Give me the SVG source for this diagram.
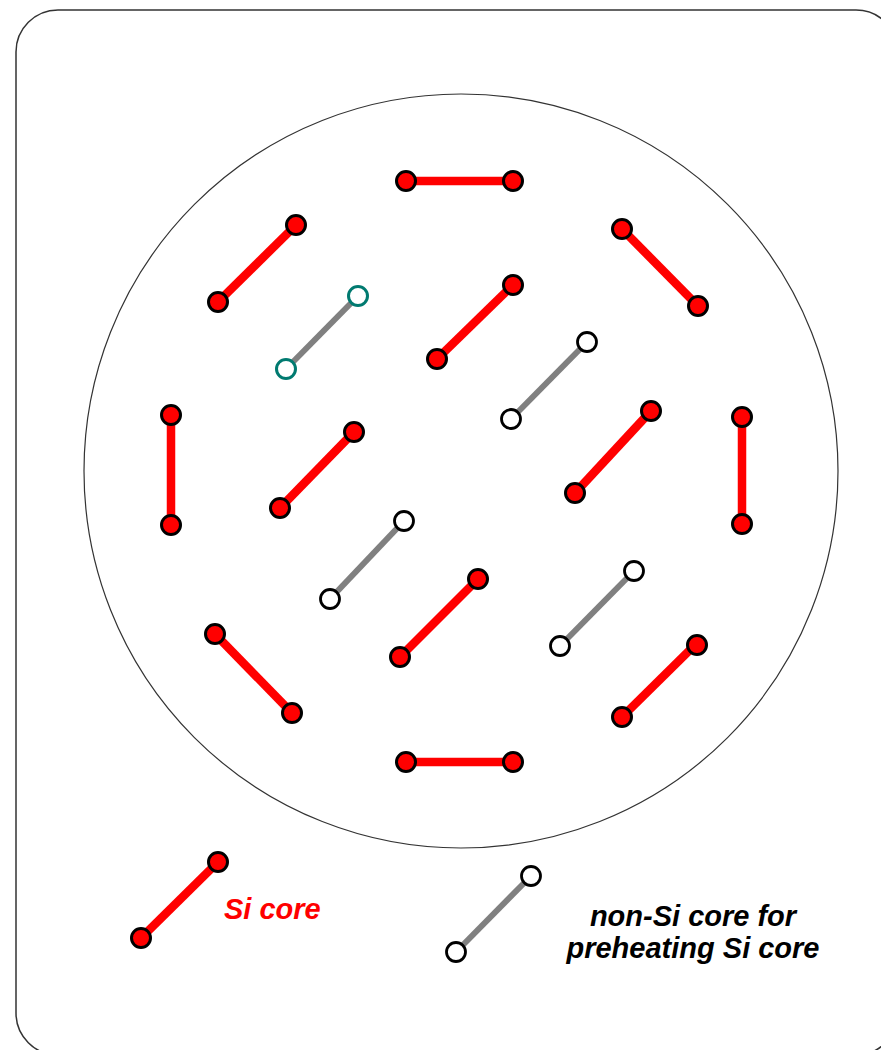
<svg xmlns="http://www.w3.org/2000/svg" width="881" height="1050" viewBox="0 0 881 1050">
  <style>
    .frame { fill: #ffffff; stroke: #333333; stroke-width: 1.5; }
    .wafer { fill: #ffffff; stroke: #333333; stroke-width: 1.2; }
    .si-rod { stroke: #ff0000; stroke-width: 8.5; stroke-linecap: butt; }
    .pre-rod { stroke: #808080; stroke-width: 6; stroke-linecap: butt; }
    .si-end { fill: #ff0000; stroke: #000000; stroke-width: 3; }
    .pre-end { fill: #ffffff; stroke: #000000; stroke-width: 2.8; }
    .pre-end-teal { fill: #ffffff; stroke: #007a70; stroke-width: 3; }
    .lbl { font-family: "Liberation Sans", Arial, sans-serif; font-size: 29px; font-weight: bold; font-style: italic; }
  </style>

  <rect class="frame" x="16" y="10" width="882" height="1045" rx="42" ry="42"/>
  <circle class="wafer" cx="461" cy="471" r="377"/>

  <g id="connectors">
    <line class="si-rod" x1="406" y1="181" x2="513" y2="181"/>
    <line class="si-rod" x1="218" y1="302" x2="296" y2="225"/>
    <line class="si-rod" x1="622" y1="229" x2="698" y2="306"/>
    <line class="pre-rod" x1="286" y1="369" x2="358" y2="296"/>
    <line class="si-rod" x1="437" y1="359" x2="513" y2="285"/>
    <line class="pre-rod" x1="511" y1="419" x2="587" y2="342"/>
    <line class="si-rod" x1="171" y1="415" x2="171" y2="525"/>
    <line class="si-rod" x1="742" y1="417" x2="742" y2="524"/>
    <line class="si-rod" x1="280" y1="508" x2="354" y2="432"/>
    <line class="si-rod" x1="575" y1="493" x2="651" y2="411"/>
    <line class="pre-rod" x1="330" y1="599" x2="404" y2="521"/>
    <line class="si-rod" x1="400" y1="657" x2="478" y2="579"/>
    <line class="pre-rod" x1="560" y1="646" x2="634" y2="571"/>
    <line class="si-rod" x1="215" y1="634" x2="292" y2="713"/>
    <line class="si-rod" x1="622" y1="717" x2="699" y2="641"/>
    <line class="si-rod" x1="406" y1="762" x2="513" y2="762"/>
    <line class="si-rod" x1="141" y1="938" x2="218" y2="862"/>
    <line class="pre-rod" x1="456" y1="952" x2="531" y2="876"/>
  </g>

  <g id="si-1"><circle class="si-end" cx="406" cy="181" r="9.5"/><circle class="si-end" cx="513" cy="181" r="9.5"/></g>
  <g id="si-2"><circle class="si-end" cx="218" cy="302" r="9.5"/><circle class="si-end" cx="296" cy="225" r="9.5"/></g>
  <g id="si-3"><circle class="si-end" cx="622" cy="229" r="9.5"/><circle class="si-end" cx="698" cy="306" r="9.5"/></g>
  <g id="pre-1"><circle class="pre-end-teal" cx="286" cy="369" r="9.5"/><circle class="pre-end-teal" cx="358" cy="296" r="9.5"/></g>
  <g id="si-4"><circle class="si-end" cx="437" cy="359" r="9.5"/><circle class="si-end" cx="513" cy="285" r="9.5"/></g>
  <g id="pre-2"><circle class="pre-end" cx="511" cy="419" r="9.5"/><circle class="pre-end" cx="587" cy="342" r="9.5"/></g>
  <g id="si-5"><circle class="si-end" cx="171" cy="415" r="9.5"/><circle class="si-end" cx="171" cy="525" r="9.5"/></g>
  <g id="si-6"><circle class="si-end" cx="742" cy="417" r="9.5"/><circle class="si-end" cx="742" cy="524" r="9.5"/></g>
  <g id="si-7"><circle class="si-end" cx="280" cy="508" r="9.5"/><circle class="si-end" cx="354" cy="432" r="9.5"/></g>
  <g id="si-8"><circle class="si-end" cx="575" cy="493" r="9.5"/><circle class="si-end" cx="651" cy="411" r="9.5"/></g>
  <g id="pre-3"><circle class="pre-end" cx="330" cy="599" r="9.5"/><circle class="pre-end" cx="404" cy="521" r="9.5"/></g>
  <g id="si-9"><circle class="si-end" cx="400" cy="657" r="9.5"/><circle class="si-end" cx="478" cy="579" r="9.5"/></g>
  <g id="pre-4"><circle class="pre-end" cx="560" cy="646" r="9.5"/><circle class="pre-end" cx="634" cy="571" r="9.5"/></g>
  <g id="si-10"><circle class="si-end" cx="215" cy="634" r="9.5"/><circle class="si-end" cx="292" cy="713" r="9.5"/></g>
  <g id="si-11"><circle class="si-end" cx="622" cy="717" r="9.5"/><circle class="si-end" cx="697" cy="645" r="9.5"/></g>
  <g id="si-12"><circle class="si-end" cx="406" cy="762" r="9.5"/><circle class="si-end" cx="513" cy="762" r="9.5"/></g>

  <g id="legend-si">
    <circle class="si-end" cx="141" cy="938" r="9.5"/><circle class="si-end" cx="218" cy="862" r="9.5"/>
    <text class="lbl" x="224" y="919" fill="#ff0000">Si core</text>
  </g>
  <g id="legend-pre">
    <circle class="pre-end" cx="456" cy="952" r="9.5"/><circle class="pre-end" cx="531" cy="876" r="9.5"/>
    <text class="lbl" x="693" y="926" fill="#000000" text-anchor="middle">non-Si core for</text>
    <text class="lbl" x="693" y="958" fill="#000000" text-anchor="middle">preheating Si core</text>
  </g>
</svg>
